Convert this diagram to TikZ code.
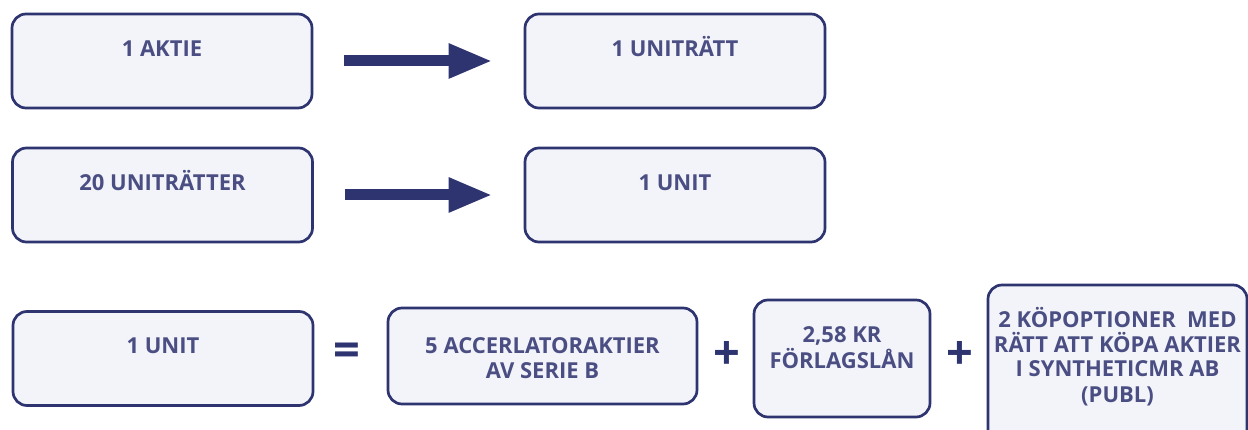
\documentclass[tikz,border=0pt]{standalone}
\usepackage{fontspec}
\setmainfont{Open Sans}
\usetikzlibrary{arrows.meta}

\definecolor{navy}{RGB}{46,52,112}
\definecolor{boxfill}{RGB}{243,244,250}
\definecolor{textblue}{RGB}{74,78,130}

\tikzset{
	unitbox/.style={draw=navy, line width=2.7pt, fill=boxfill, rounded corners=14pt,
		minimum width=300pt, minimum height=94pt, inner sep=0pt},
	boxtext/.style={text=textblue, font=\fontsize{22}{25}\selectfont\bfseries,
		align=center, inner sep=0pt, anchor=base},
	bigarrow/.style={navy, line width=11pt, -{Triangle[length=44pt,width=32pt]}},
	sign/.style={text=navy, font=\fontsize{47}{47}\selectfont\bfseries, inner sep=0pt}
}

\begin{document}
\begin{tikzpicture}[x=1pt, y=-1pt]
			\useasboundingbox (0, 0) rectangle (1248, 430);
			\clip (0, 0) rectangle (1248, 430);

			% row 1
			\node[unitbox] (aktie) at (162, 61) {};
			\node[unitbox] (unitratt) at (675, 61) {};
			\node[boxtext] (aktie text) at (162, 57)
				{1 AKTIE};
			\node[boxtext] (unitratt text) at (675, 57)
				{1 UNITRÄTT};
			\draw[bigarrow]
				([xshift=31pt]aktie.east) -- ([xshift=-31pt]unitratt.west);

			% row 2
			\node[unitbox] (unitratter) at (162.5, 195) {};
			\node[unitbox] (unit) at (675, 195) {};
			\node[boxtext] (unitratter text) at (162.5, 191)
				{20 UNITRÄTTER};
			\node[boxtext] (unit text) at (675, 191)
				{1 UNIT};
			\draw[bigarrow]
				([xshift=31pt]unitratter.east) -- ([xshift=-31pt]unit.west);

			% row 3 (base = last line)
			\node[unitbox] (unitsum) at (163, 358.5) {};
			\node[boxtext] (unitsum text) at (163, 354)
				{1 UNIT};
			\node[sign] (equals) at (347, 355)
				{=};

			\node[unitbox, minimum width=309pt, minimum height=96pt] (serieb) at (542.5, 356) {};
			\node[boxtext] (serieb text) at (542.5, 378)
				{5 ACCERLATORAKTIER\\AV SERIE B};
			\node[sign] (plus a) at (727, 355)
				{+};

			\node[unitbox, minimum width=176pt, minimum height=117pt] (lan) at (842, 358.5) {};
			\node[boxtext] (lan text) at (842, 368)
				{2,58 KR\\FÖRLAGSLÅN};
			\node[sign] (plus b) at (960, 355)
				{+};

			\node[unitbox, minimum width=259pt, minimum height=170pt] (optioner) at (1117.5, 370) {};
			\node[boxtext] (optioner text) at (1117.5, 402)
				{2 KÖPOPTIONER\ \ MED\\RÄTT ATT KÖPA AKTIER\\I SYNTHETICMR AB\\(PUBL)};

		\end{tikzpicture}
\end{document}
